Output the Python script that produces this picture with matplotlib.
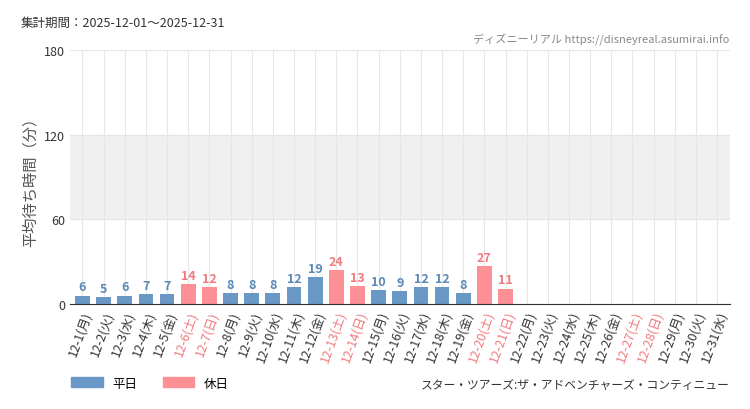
import matplotlib
matplotlib.use("Agg")
import matplotlib.pyplot as plt
from matplotlib.patches import Patch

plt.rcParams['font.family'] = ['Noto Sans CJK JP', 'DejaVu Sans']

days = list(range(1, 32))
weekdays = ["月", "火", "水", "木", "金", "土", "日"]
values = [6, 5, 6, 7, 7, 14, 12, 8, 8, 8, 12, 19, 24, 13, 10, 9, 12, 12, 8, 27, 11]
holidays = [6, 7, 13, 14, 20, 21, 27, 28]
labels = [f"12-{d}({weekdays[(d - 1) % 7]})" for d in days]

blue = "#6a98c6"
red = "#fc9094"
red_txt = "#f07a7e"

fig = plt.figure(figsize=(7.5, 4.1), dpi=100)
ax = fig.add_axes([0.093, 0.256, 0.88, 0.62])
ax.axhspan(60, 120, color="#f0f0f0", zorder=0)
for i, v in enumerate(values):
    d = days[i]
    hol = d in holidays
    ax.bar(i, v, width=0.7, color=red if hol else blue, zorder=2)
    ax.text(i, v + 1.5, str(v), ha="center", va="bottom", fontsize=9,
            fontweight="bold", color=red_txt if hol else "#5a88b6", zorder=3)
ax.set_xlim(-0.6, len(days) - 0.4)
ax.set_ylim(0, 180)
ax.set_yticks([0, 60, 120, 180])
ax.set_yticklabels(["0", "60", "120", "180"], fontsize=9, color="#333333")
ax.set_xticks(range(len(days)))
ax.set_xticklabels(labels, rotation=70, ha="right", rotation_mode="anchor", fontsize=9)
for t, d in zip(ax.get_xticklabels(), days):
    t.set_color(red_txt if d in holidays else "#333333")
ax.grid(True, color="#e6e6e6", linewidth=0.8, zorder=1)
ax.set_axisbelow(True)
for s in ["top", "right", "left"]:
    ax.spines[s].set_visible(False)
ax.spines["bottom"].set_color("#333333")
ax.tick_params(length=0)
ax.set_ylabel("平均待ち時間（分）", fontsize=11, color="#555555")

fig.text(0.027, 0.935, "集計期間：2025-12-01〜2025-12-31", fontsize=9, color="#333333")
fig.text(0.973, 0.895, "ディズニーリアル https://disneyreal.asumirai.info", fontsize=8,
         color="#888888", ha="right")
fig.text(0.973, 0.05, "スター・ツアーズ:ザ・アドベンチャーズ・コンティニュー", fontsize=8.5,
         color="#333333", ha="right")
fig.legend(handles=[Patch(color=blue, label="平日"), Patch(color=red, label="休日")],
           loc="lower left", bbox_to_anchor=(0.08, 0.02), ncol=2, frameon=False,
           fontsize=9, handlelength=2.5, handleheight=0.8)
fig.savefig("out.png", dpi=100)
